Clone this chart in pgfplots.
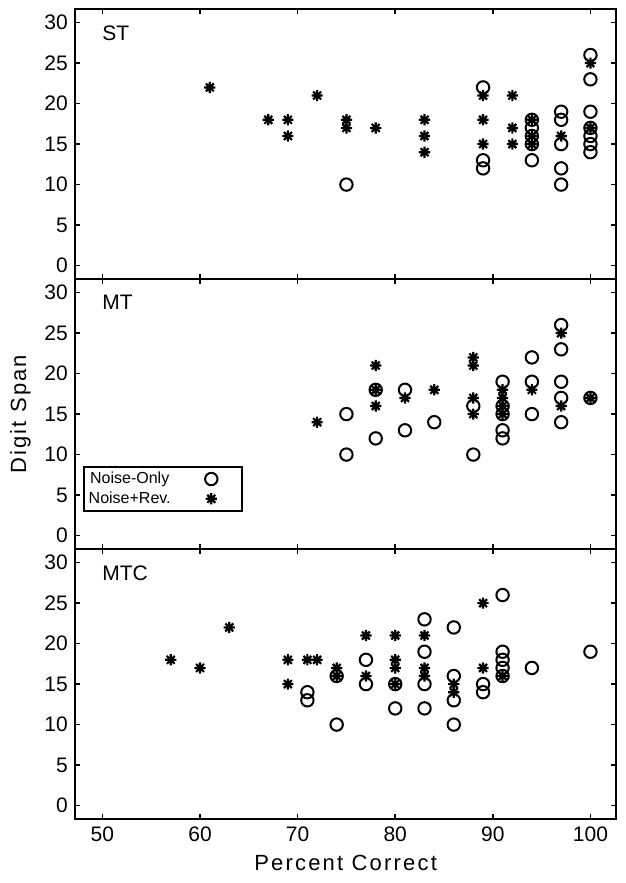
\documentclass[border=0pt]{standalone}
\usepackage{fontspec}
\setmainfont{Liberation Sans}
\newfontfamily\labelfont[LetterSpace=10]{Liberation Sans}
\usepackage{pgfplots}
\pgfplotsset{compat=1.18}
\usepgfplotslibrary{groupplots}

% eight-armed asterisk, as in the original plot
\pgfdeclareplotmark{ast8}{%
  \pgfpathmoveto{\pgfqpoint{-\pgfplotmarksize}{0pt}}%
  \pgfpathlineto{\pgfqpoint{\pgfplotmarksize}{0pt}}%
  \pgfpathmoveto{\pgfqpoint{0pt}{-\pgfplotmarksize}}%
  \pgfpathlineto{\pgfqpoint{0pt}{\pgfplotmarksize}}%
  \pgfpathmoveto{\pgfqpoint{-0.7071\pgfplotmarksize}{-0.7071\pgfplotmarksize}}%
  \pgfpathlineto{\pgfqpoint{0.7071\pgfplotmarksize}{0.7071\pgfplotmarksize}}%
  \pgfpathmoveto{\pgfqpoint{-0.7071\pgfplotmarksize}{0.7071\pgfplotmarksize}}%
  \pgfpathlineto{\pgfqpoint{0.7071\pgfplotmarksize}{-0.7071\pgfplotmarksize}}%
  \pgfusepathqstroke}

\pgfplotsset{
  circ/.style={only marks, mark=o, mark size=3.1pt, line width=1pt, black},
  star/.style={only marks, mark=ast8, mark size=2.8pt, line width=1.1pt, black},
}

\begin{document}
\begin{tikzpicture}
\begin{groupplot}[
  group style={group size=1 by 3, vertical sep=0pt, xticklabels at=edge bottom},
  scale only axis, width=270.8pt, height=135pt,
  xmin=47.17, xmax=102.66, ymin=-1.7, ymax=31.65,
  xtick={50,60,...,100}, ytick={0,5,...,30},
  tick align=inside, xtick pos=both, ytick pos=both,
  major tick length=2.5pt,
  axis line style={line width=1pt},
  every tick/.style={line width=0.8pt, black},
  tick label style={font=\fontsize{10.5}{12}\selectfont},
  /pgf/number format/assume math mode=true,
  label style={font=\labelfont\fontsize{11}{12}\selectfont},
  legend plot pos=right,
]
% ST
\nextgroupplot
\addplot[circ] coordinates {(75,10)(89,22)(89,13)(89,12)(94,18)(94,17)(94,16)(94,15)(94,13)
  (97,19)(97,18)(97,15)(97,12)(97,10)(100,26)(100,23)(100,19)(100,17)(100,16)(100,15)(100,14)};
\addplot[star] coordinates {(61,22)(67,18)(69,18)(69,16)(72,21)(75,18)(75,17)(78,17)
  (83,18)(83,16)(83,14)(89,21)(89,18)(89,15)(92,21)(92,17)(92,15)(94,18)(94,16)(94,15)
  (97,16)(100,25)(100,17)};
\node[anchor=north west, inner sep=0pt, font=\fontsize{10.5}{12}\selectfont] at (rel axis cs:0.05,0.942) {ST};

% MT
\nextgroupplot[ylabel={Digit Span},
  legend image code/.code={\draw[#1, only marks] plot coordinates {(0.45cm,0cm)};
    \path[draw=none] (0cm,0cm) -- (0.95cm,0cm);},
  legend style={at={(0.015,0.14)}, anchor=south west, draw=black, line width=0.8pt,
    font=\fontsize{8}{9}\selectfont, row sep=0pt, inner sep=1pt,
    nodes={inner ysep=1.3pt, inner xsep=1.5pt}}]
\addplot[circ] coordinates {(75,15)(75,10)(78,18)(78,12)(81,18)(81,13)(84,14)(88,16)(88,10)
  (91,19)(91,16)(91,15)(91,13)(91,12)(94,22)(94,19)(94,15)
  (97,26)(97,23)(97,19)(97,17)(97,14)(100,17)};
\addlegendentry{Noise-Only\hspace*{6pt}}
\addplot[star] coordinates {(72,14)(78,21)(78,18)(78,16)(81,17)(84,18)(88,22)(88,21)(88,17)(88,15)
  (91,18)(91,17)(91,16)(91,15)(94,18)(97,25)(97,16)(100,17)};
\addlegendentry{Noise+Rev.\hspace*{6pt}}
\node[anchor=north west, inner sep=0pt, font=\fontsize{10.5}{12}\selectfont] at (rel axis cs:0.05,0.942) {MT};

% MTC
\nextgroupplot[xlabel={Percent Correct}]
\addplot[circ] coordinates {(71,14)(71,13)(74,16)(74,10)(77,18)(77,15)(80,15)(80,12)
  (83,23)(83,19)(83,15)(83,12)(86,22)(86,16)(86,13)(86,10)(89,15)(89,14)
  (91,26)(91,19)(91,18)(91,17)(91,16)(94,17)(100,19)};
\addplot[star] coordinates {(57,18)(60,17)(63,22)(69,18)(69,15)(71,18)(72,18)(74,17)(74,16)
  (77,21)(77,16)(80,21)(80,18)(80,17)(80,15)(83,21)(83,17)(83,16)(86,15)(86,14)
  (89,25)(89,17)(91,16)};
\node[anchor=north west, inner sep=0pt, font=\fontsize{10.5}{12}\selectfont] at (rel axis cs:0.05,0.942) {MTC};
\end{groupplot}
\pgfresetboundingbox
\path ([shift={(-37.4pt,4.65pt)}]group c1r1.north west) rectangle ++(313pt,-441.5pt);
\end{tikzpicture}
\end{document}
